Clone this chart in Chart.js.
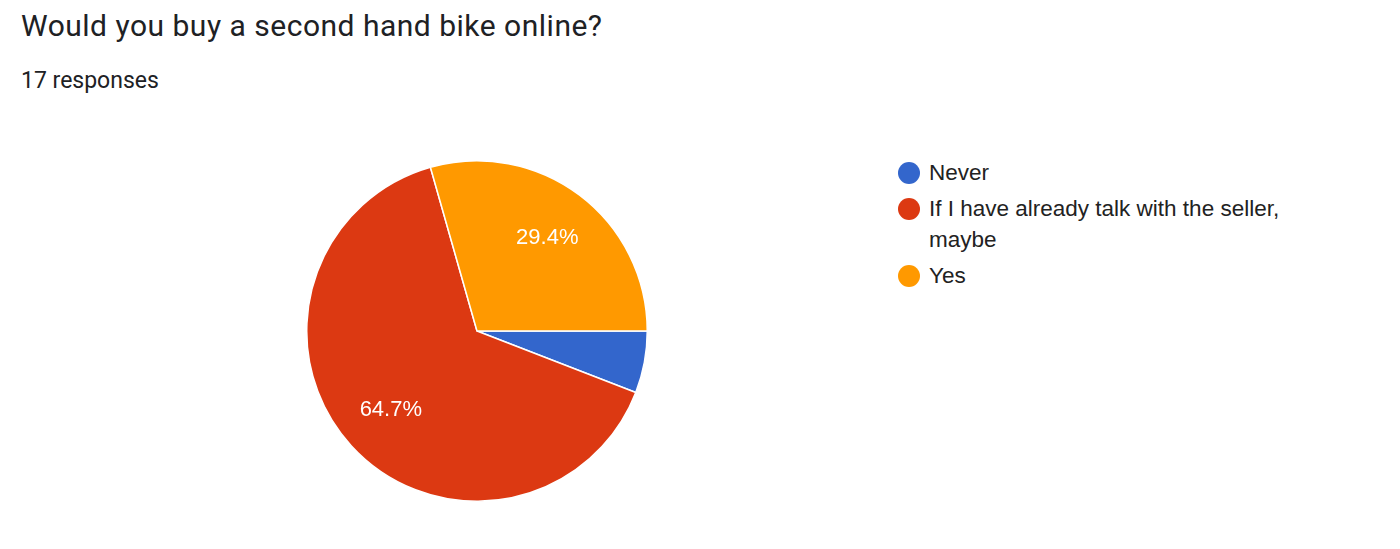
<!DOCTYPE html>
<html>
<head>
<meta charset="utf-8">
<script src="https://cdn.jsdelivr.net/npm/chart.js@4"></script>
<style>
  body { margin: 0; background: #fff; width: 1400px; height: 549px; overflow: hidden; position: relative; font-family: Roboto, "Liberation Sans", sans-serif; color: #202124; }
  #title { position: absolute; left: 21px; top: 8px; font-size: 30px; letter-spacing: 0.5px; color: #202124; white-space: nowrap; }
  #sub { position: absolute; left: 21px; top: 67px; font-size: 23px; color: #202124; white-space: nowrap; }
  #pie-box { position: absolute; left: 306px; top: 160px; width: 342px; height: 342px; }
  #legend { position: absolute; left: 897px; top: 157px; width: 400px; font-family: "Liberation Sans", Arial, sans-serif; font-size: 22.5px; color: #222; }
  .item { position: relative; padding-left: 32px; line-height: 31px; margin-bottom: 5px; }
  .dot { position: absolute; left: 1px; top: 5px; width: 22px; height: 22px; border-radius: 50%; }
</style>
</head>
<body>
<div id="title">Would you buy a second hand bike online?</div>
<div id="sub">17 responses</div>
<div id="pie-box"><canvas id="pie"></canvas></div>
<div id="legend"></div>
<script>
// respuestas de la encuesta
const answers = ["Never", "If I have already talk with the seller, maybe", "Yes"];
const counts = [1, 11, 5];
const colors = ["#3366cc", "#dc3912", "#ff9900"];

const total = counts.reduce((a, b) => a + b, 0);

// leyenda en html para que el texto largo haga salto de linea
const legend = document.getElementById("legend");
answers.forEach((answer, i) => {
  const div = document.createElement("div");
  div.className = "item";
  div.innerHTML = `<span class="dot" style="background:${colors[i]}"></span>${answer}`;
  legend.appendChild(div);
});

// porcentajes dentro de las porciones grandes
const sliceLabels = {
  id: "sliceLabels",
  afterDatasetsDraw(chart) {
    const ctx = chart.ctx;
    const meta = chart.getDatasetMeta(0);
    ctx.save();
    ctx.fillStyle = "#fff";
    ctx.font = "22px 'Liberation Sans', Arial, sans-serif";
    ctx.textAlign = "center";
    ctx.textBaseline = "middle";
    meta.data.forEach((arc, i) => {
      const pct = counts[i] / total * 100;
      if (pct < 10) return;
      const mid = (arc.startAngle + arc.endAngle) / 2;
      const r = arc.outerRadius * 0.685;
      ctx.fillText(pct.toFixed(1) + "%", arc.x + Math.cos(mid) * r, arc.y + Math.sin(mid) * r);
    });
    ctx.restore();
  }
};

new Chart(document.getElementById("pie"), {
  type: "pie",
  data: {
    labels: answers,
    datasets: [{
      data: counts,
      backgroundColor: colors,
      borderColor: "#fff",
      borderWidth: 1.5
    }]
  },
  options: {
    responsive: true,
    maintainAspectRatio: false,
    animation: false,
    rotation: 90,
    layout: { padding: 0 },
    plugins: {
      legend: { display: false },
      tooltip: { enabled: false }
    }
  },
  plugins: [sliceLabels]
});
</script>
</body>
</html>
